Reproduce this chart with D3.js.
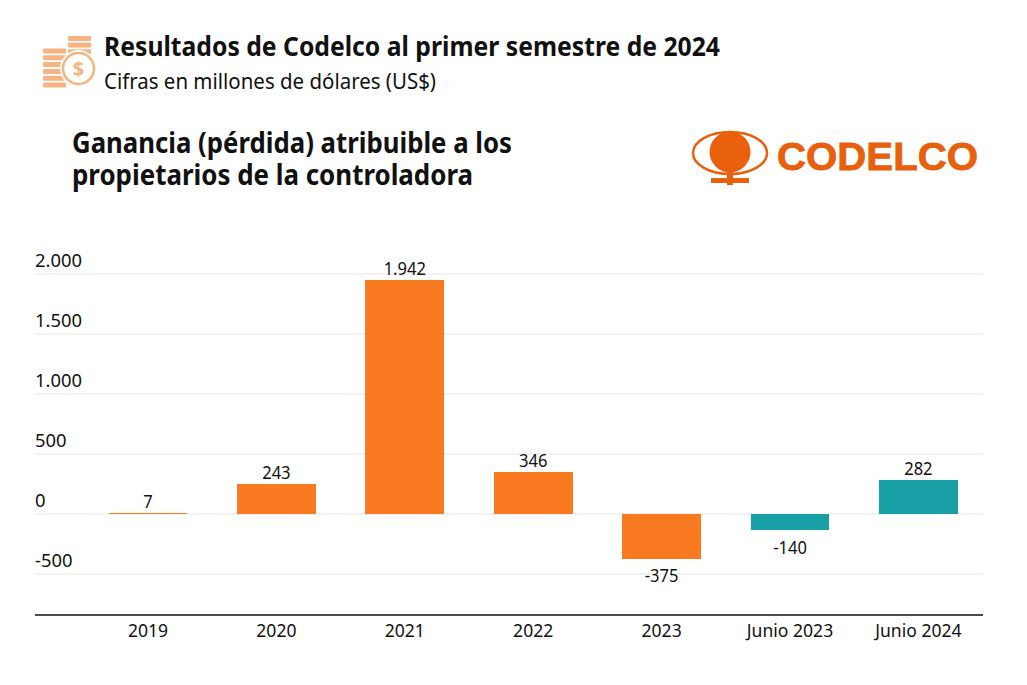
<!DOCTYPE html>
<html>
<head>
<meta charset="utf-8">
<script src="https://cdn.jsdelivr.net/npm/d3@7"></script>
<style>
  body { margin: 0; background: #fff; }
  svg { display: block; }
  text { font-family: "Noto Sans", sans-serif; fill: #111; }
</style>
</head>
<body>
<script>
const categories = ["2019", "2020", "2021", "2022", "2023", "Junio 2023", "Junio 2024"];
const values = [7, 243, 1942, 346, -375, -140, 282];
const valueLabels = ["7", "243", "1.942", "346", "-375", "-140", "282"];
const barColors = ["#f97a20", "#f97a20", "#f97a20", "#f97a20", "#f97a20", "#18a0a6", "#18a0a6"];
const yTicks = [-500, 0, 500, 1000, 1500, 2000];
const yTickLabels = ["-500", "0", "500", "1.000", "1.500", "2.000"];

const width = 1027;
const height = 685;

const svg = d3.select("body").append("svg")
    .attr("width", width)
    .attr("height", height);

// condensed look of the original typeface: fix the width of each string
const addText = (str, x, y, size, weight, len) => svg.append("text")
    .attr("x", x)
    .attr("y", y)
    .attr("font-size", size)
    .attr("font-weight", weight)
    .attr("textLength", len)
    .attr("lengthAdjust", "spacingAndGlyphs")
    .text(str);

addText("Resultados de Codelco al primer semestre de 2024", 104, 56, 27, 700, 616);
addText("Cifras en millones de dólares (US$)", 104, 89, 22, 400, 332);
addText("Ganancia (pérdida) atribuible a los", 72, 153, 29, 700, 440);
addText("propietarios de la controladora", 72, 185, 29, 700, 401);

// coins icon
const icon = svg.append("g").attr("fill", "#f6b482");
d3.range(4).forEach(i => {
    icon.append("rect").attr("x", 68).attr("y", 36 + i * 6.6).attr("width", 23).attr("height", 5).attr("rx", 1);
});
d3.range(6).forEach(i => {
    icon.append("rect").attr("x", 43).attr("y", 48.5 + i * 6.8).attr("width", 23).attr("height", 5).attr("rx", 1);
});
svg.append("circle").attr("cx", 78.5).attr("cy", 68.5).attr("r", 18.5).attr("fill", "#fff");
svg.append("circle").attr("cx", 78.5).attr("cy", 68.5).attr("r", 15.5)
    .attr("fill", "#fff").attr("stroke", "#f6b482").attr("stroke-width", 2.5);
svg.append("text").attr("x", 78.5).attr("y", 75.5).attr("text-anchor", "middle")
    .attr("font-size", 20).attr("font-weight", 700).style("fill", "#f6b482").text("$");

// logo
const logoColor = "#e85f0c";
const logo = svg.append("g");
logo.append("ellipse").attr("cx", 730).attr("cy", 153).attr("rx", 37).attr("ry", 21)
    .attr("fill", "none").attr("stroke", logoColor).attr("stroke-width", 2.5);
logo.append("circle").attr("cx", 730).attr("cy", 152).attr("r", 20.5).attr("fill", logoColor);
logo.append("rect").attr("x", 727).attr("y", 171).attr("width", 6).attr("height", 14).attr("fill", logoColor);
logo.append("rect").attr("x", 711).attr("y", 178).attr("width", 38).attr("height", 5).attr("fill", logoColor);
svg.append("text").attr("x", 777).attr("y", 170)
    .attr("font-size", 39).attr("font-weight", 700)
    .attr("textLength", 201).attr("lengthAdjust", "spacingAndGlyphs")
    .attr("stroke", logoColor).attr("stroke-width", 0.8)
    .style("font-family", "'Liberation Sans', sans-serif").style("fill", logoColor)
    .text("CODELCO");

// scales
const x = d3.scaleBand()
    .domain(categories)
    .range([83.8, 982.6])
    .paddingInner(0.385)
    .paddingOuter(0.1925);

const y = d3.scaleLinear()
    .domain([-500, 2000])
    .range([573.5, 273.5]);

const axisLeftX = 35;
const axisRightX = 983;
const axisBottomY = 615;

// y axis with labels sitting above the gridlines
const yAxis = svg.append("g")
    .attr("transform", `translate(${axisLeftX},0)`)
    .call(d3.axisRight(y)
        .tickValues(yTicks)
        .tickSize(axisRightX - axisLeftX)
        .tickFormat((d, i) => yTickLabels[i]));
yAxis.select(".domain").remove();
yAxis.selectAll("line").attr("stroke", "#e6e6e6").attr("stroke-width", 1);
yAxis.selectAll("text")
    .attr("x", 0)
    .attr("dy", -7)
    .attr("font-size", 19)
    .style("font-family", "'Noto Sans', sans-serif")
    .style("fill", "#111")
    .attr("transform", "scale(0.97,1)");

// bars
svg.selectAll(".bar")
    .data(categories)
    .join("rect")
    .classed("bar", true)
    .attr("x", d => x(d))
    .attr("width", x.bandwidth())
    .attr("y", (d, i) => y(Math.max(0, values[i])))
    .attr("height", (d, i) => Math.abs(y(values[i]) - y(0)))
    .attr("fill", (d, i) => barColors[i])
    .attr("shape-rendering", "crispEdges");

// value labels
svg.selectAll(".value")
    .data(categories)
    .join("text")
    .classed("value", true)
    .attr("x", d => x(d) + x.bandwidth() / 2)
    .attr("y", (d, i) => values[i] < 0 ? y(values[i]) + 24 : y(values[i]) - 5)
    .attr("text-anchor", "middle")
    .attr("font-size", 18)
    .attr("transform", d => {
        const cx = x(d) + x.bandwidth() / 2;
        return `translate(${cx},0) scale(0.92,1) translate(${-cx},0)`;
    })
    .text((d, i) => valueLabels[i]);

// x axis
const xAxis = svg.append("g")
    .attr("transform", `translate(0,${axisBottomY})`)
    .call(d3.axisBottom(x).tickSize(0).tickPadding(9));
xAxis.select(".domain").remove();
xAxis.append("line")
    .attr("x1", axisLeftX)
    .attr("x2", axisRightX)
    .attr("stroke", "#111")
    .attr("stroke-width", 1.6);
// tick groups are already translated, so scaling about their own origin is enough
xAxis.selectAll("text")
    .attr("font-size", 18.5)
    .style("font-family", "'Noto Sans', sans-serif")
    .style("fill", "#111")
    .attr("transform", "scale(0.95,1)");
</script>
</body>
</html>
